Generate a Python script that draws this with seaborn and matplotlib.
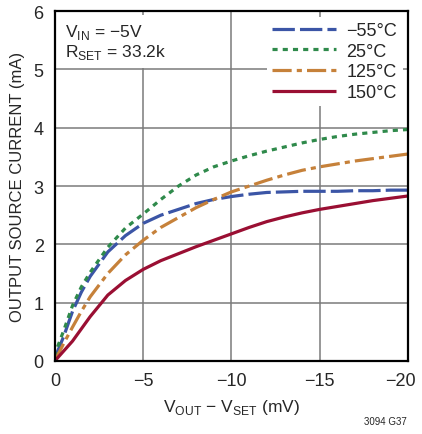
import matplotlib
matplotlib.use('Agg')
import matplotlib.pyplot as plt
import matplotlib.transforms as mtransforms
import pandas as pd
import numpy as np
import seaborn as sns

# V_OUT - V_SET (mV), drawn as negative values
vdiff = [0, -0.5, -1, -1.5, -2, -3, -4, -5, -6, -7, -8, -9, -10, -11, -12, -13, -14, -15, -16, -17, -18, -19, -20]
i_m55 = [0.05, 0.42, 0.85, 1.18, 1.45, 1.87, 2.15, 2.36, 2.50, 2.60, 2.70, 2.77, 2.82, 2.86, 2.89, 2.90, 2.91, 2.91, 2.91, 2.92, 2.92, 2.93, 2.93]
i_25 = [0.12, 0.52, 0.95, 1.27, 1.52, 1.95, 2.28, 2.52, 2.77, 3.00, 3.19, 3.33, 3.43, 3.52, 3.60, 3.67, 3.74, 3.80, 3.85, 3.89, 3.92, 3.95, 3.97]
i_125 = [0.00, 0.30, 0.58, 0.85, 1.10, 1.50, 1.82, 2.07, 2.29, 2.46, 2.63, 2.77, 2.90, 3.00, 3.10, 3.19, 3.27, 3.33, 3.38, 3.43, 3.47, 3.51, 3.55]
i_150 = [0.00, 0.17, 0.34, 0.55, 0.76, 1.13, 1.38, 1.57, 1.72, 1.84, 1.96, 2.07, 2.18, 2.29, 2.39, 2.47, 2.54, 2.60, 2.65, 2.70, 2.75, 2.79, 2.83]

labels = ['\u221255\u00b0C', '25\u00b0C', '125\u00b0C', '150\u00b0C']
colors = ['#3b55a6', '#2f8a4b', '#c6813a', '#9a0f33']
dash_styles = [(7, 1.6), (1.6, 1.6), (6, 1.6, 1.6, 1.6), None]

sns.set_style('white')
plt.rcParams['font.family'] = ['Liberation Sans Narrow', 'Liberation Sans', 'DejaVu Sans']
plt.rcParams['mathtext.fontset'] = 'custom'
plt.rcParams['mathtext.rm'] = 'Liberation Sans'

fig = plt.figure(figsize=(4.22, 4.35), dpi=100)
ax = fig.add_axes([0.130, 0.168, 0.837, 0.804])

for vals, lab, col, ds in zip([i_m55, i_25, i_125, i_150], labels, colors, dash_styles):
    sns.lineplot(x=vdiff, y=vals, color=col, label=lab, linewidth=2.3, ax=ax, legend=False)
    line = ax.lines[-1]
    if ds is not None:
        line.set_dashes(ds)
    line.set_solid_capstyle('butt')
    line.set_dash_capstyle('butt')

ax.set_xlim(0, -20)
ax.set_ylim(0, 6)
ax.set_xticks([0, -5, -10, -15, -20])
ax.set_yticks([0, 1, 2, 3, 4, 5, 6])
ax.tick_params(axis='both', labelsize=13, length=0, pad=8)
ax.set_axisbelow(True)
ax.grid(True, color='#7a7a7a', linewidth=1.1)
for s in ax.spines.values():
    s.set_color('black')
    s.set_linewidth(1.6)

# nudge the last x tick label so it stays inside the figure
last = ax.get_xticklabels()[-1]
last.set_transform(last.get_transform() + mtransforms.ScaledTranslation(-8 / 100, 0, fig.dpi_scale_trans))

ax.set_xlabel('V$_{\\mathregular{OUT}}$ \u2212 V$_{\\mathregular{SET}}$ (mV)', fontsize=12.5, labelpad=6)
ax.set_ylabel('OUTPUT SOURCE CURRENT (mA)', fontsize=12, labelpad=6)

ax.text(0.03, 0.97, 'V$_{\\mathregular{IN}}$ = \u22125V\nR$_{\\mathregular{SET}}$ = 33.2k',
        transform=ax.transAxes, ha='left', va='top', fontsize=12.5, linespacing=1.1,
        zorder=3, bbox=dict(facecolor='white', edgecolor='none', pad=5))

leg = ax.legend(loc='upper right', fontsize=13, frameon=True, fancybox=False,
                framealpha=1, edgecolor='none', facecolor='white', handlelength=3.5,
                handletextpad=0.6, labelspacing=0.2, borderaxespad=0.3, borderpad=0.3)
leg.set_zorder(5)

fig.text(0.965, 0.018, '3094 G37', ha='right', va='bottom', fontsize=7)

fig.savefig('out.png', dpi=100)
